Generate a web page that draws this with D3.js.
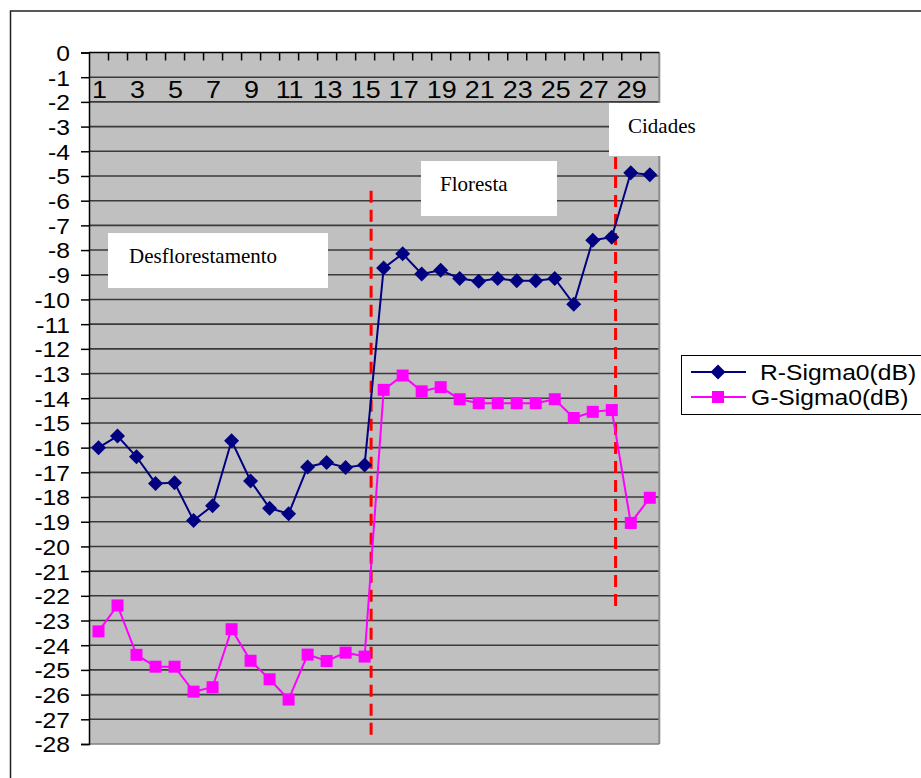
<!DOCTYPE html>
<html>
<head>
<meta charset="utf-8">
<script src="https://cdn.jsdelivr.net/npm/d3@7"></script>
<style>
  html, body { margin: 0; padding: 0; background: #ffffff; }
  svg { display: block; }
</style>
</head>
<body>
<div id="chart"></div>
<script>
// ---------------- DATA ----------------
const categories = d3.range(1, 31);               // 1..30
const xTickLabels = d3.range(1, 30, 2);           // 1,3,5,...,29
const yTickValues = d3.range(0, -29, -1);         // 0..-28

const seriesNames = ["R-Sigma0(dB)", "G-Sigma0(dB)"];

const rSigma0 = [
  -16.0, -15.53, -16.37, -17.45, -17.42, -18.95, -18.35, -15.72, -17.35, -18.45,
  -18.68, -16.78, -16.6, -16.8, -16.7, -8.73, -8.15, -8.97, -8.82, -9.15,
  -9.26, -9.15, -9.24, -9.24, -9.15, -10.19, -7.6, -7.48, -4.87, -4.95
];
const gSigma0 = [
  -23.44, -22.39, -24.39, -24.87, -24.87, -25.88, -25.7, -23.35, -24.63, -25.38,
  -26.2, -24.38, -24.64, -24.3, -24.46, -13.66, -13.08, -13.72, -13.55, -14.04,
  -14.2, -14.2, -14.2, -14.2, -14.04, -14.8, -14.55, -14.48, -19.05, -18.03
];

// region separators (category position, top value, bottom value)
const separatorX = [15.34, 28.2];
const separatorTop = [-5.6, -4.23];
const separatorBottom = [-27.67, -22.45];

const regionLabels = ["Desflorestamento", "Floresta", "Cidades"];

// ---------------- LAYOUT ----------------
const W = 921, H = 778;
const plot = { left: 89, right: 659.3, top: 52.5, bottom: 744 };
const SX = 1.12; // horizontal stretch of sans texts seen in the reference

const svg = d3.select("#chart").append("svg")
  .attr("width", W).attr("height", H);

// outer frame
svg.append("rect")
  .attr("x", 10.5).attr("y", 11).attr("width", W + 20).attr("height", H + 20)
  .attr("fill", "#fff").attr("stroke", "#222").attr("stroke-width", 1.5);

const x = d3.scaleLinear().domain([0.5, 30.5]).range([plot.left, plot.right]);
const y = d3.scaleLinear().domain([0, -28]).range([plot.top, plot.bottom]);

// plot background
svg.append("rect")
  .attr("x", plot.left).attr("y", plot.top)
  .attr("width", plot.right - plot.left).attr("height", plot.bottom - plot.top)
  .attr("fill", "#c0c0c0");

// gridlines
svg.append("g").selectAll("line").data(yTickValues.filter(v => v !== 0)).join("line")
  .attr("x1", plot.left).attr("x2", plot.right)
  .attr("y1", d => y(d)).attr("y2", d => y(d))
  .attr("stroke", d => d === -28 ? "#808080" : "#3a3a3a")
  .attr("stroke-width", 1.6);

// right border of plot
svg.append("line")
  .attr("x1", plot.right).attr("x2", plot.right)
  .attr("y1", plot.top).attr("y2", plot.bottom)
  .attr("stroke", "#8c8c8c").attr("stroke-width", 2);

function stretch(sel) {
  sel.each(function () {
    const len = this.getComputedTextLength();
    d3.select(this).attr("textLength", len * SX).attr("lengthAdjust", "spacingAndGlyphs");
  });
}

// Y axis
const yAxis = d3.axisLeft(y).tickValues(yTickValues).tickSize(8).tickPadding(11)
  .tickFormat(d => d3.format("d")(d).replace("−", "-"));
const gy = svg.append("g").attr("transform", `translate(${plot.left},0)`).call(yAxis);
gy.select(".domain").attr("stroke", "#000").attr("stroke-width", 1.5);
gy.selectAll(".tick line").attr("stroke", "#000").attr("stroke-width", 1.5);
gy.selectAll(".tick text")
  .attr("font-family", "'Liberation Sans', Arial, sans-serif")
  .attr("font-size", 22).attr("fill", "#000").attr("dy", "0.36em")
  .call(stretch);

// X axis at top (value 0), ticks inside at category boundaries
const boundaryTicks = d3.range(1.5, 30, 1);
const xAxis = d3.axisBottom(x).tickValues(boundaryTicks).tickSize(8).tickFormat("");
const gx = svg.append("g").attr("transform", `translate(0,${y(0)})`).call(xAxis);
gx.select(".domain").attr("stroke", "#000").attr("stroke-width", 1.5)
  .attr("d", `M${plot.left},0H${plot.right}`);
gx.selectAll(".tick line").attr("stroke", "#000").attr("stroke-width", 1.5);

// x labels (odd categories), placed between -1 and -2 gridlines
svg.append("g").selectAll("text").data(xTickLabels).join("text")
  .attr("x", d => x(d) + 1).attr("y", 98)
  .attr("text-anchor", "middle")
  .attr("font-family", "'Liberation Sans', Arial, sans-serif")
  .attr("font-size", 24).attr("fill", "#000")
  .text(d => d)
  .call(stretch);

// region separators
svg.append("g").selectAll("line").data(separatorX).join("line")
  .attr("x1", d => x(d)).attr("x2", d => x(d))
  .attr("y1", (d, i) => y(separatorTop[i])).attr("y2", (d, i) => y(separatorBottom[i]))
  .attr("stroke", "#ff0000").attr("stroke-width", 3)
  .attr("stroke-dasharray", "12,7");

// series
const series = [
  { name: seriesNames[0], values: rSigma0, color: "#000080", marker: "diamond" },
  { name: seriesNames[1], values: gSigma0, color: "#ff00ff", marker: "square" }
];
const line = d3.line().x((d, i) => x(categories[i])).y(d => y(d));

const diamondPath = "M0,-7.5L7.5,0L0,7.5L-7.5,0Z";
const squarePath = "M-6,-6H6V6H-6Z";

series.forEach(s => {
  svg.append("path").datum(s.values)
    .attr("d", line).attr("fill", "none")
    .attr("stroke", s.color).attr("stroke-width", 2);
  svg.append("g").selectAll("path").data(s.values).join("path")
    .attr("transform", (d, i) => `translate(${x(categories[i])},${y(d)})`)
    .attr("d", s.marker === "diamond" ? diamondPath : squarePath)
    .attr("fill", s.color);
});

// region label boxes
const boxes = [
  { x: 108, y: 233, w: 220, h: 55, tx: 129, ty: 263 },
  { x: 421, y: 161, w: 136, h: 55, tx: 440, ty: 191 },
  { x: 609, y: 103, w: 95, h: 53, tx: 628, ty: 133 }
];
boxes.forEach((b, i) => {
  svg.append("rect").attr("x", b.x).attr("y", b.y).attr("width", b.w).attr("height", b.h)
    .attr("fill", "#fff");
  svg.append("text").attr("x", b.tx).attr("y", b.ty)
    .attr("font-family", "'Liberation Serif', 'Times New Roman', serif")
    .attr("font-size", 21).attr("fill", "#000")
    .text(regionLabels[i]);
});

// legend
const lg = svg.append("g");
lg.append("rect").attr("x", 681.5).attr("y", 355.5).attr("width", 300).attr("height", 59)
  .attr("fill", "#fff").attr("stroke", "#000").attr("stroke-width", 1);
const legendRows = [
  { y: 372, lineX1: 691, lineX2: 746, tx: 760 },
  { y: 397, lineX1: 691, lineX2: 746, tx: 751 }
];
series.forEach((s, i) => {
  const r = legendRows[i];
  lg.append("line").attr("x1", r.lineX1).attr("x2", r.lineX2).attr("y1", r.y).attr("y2", r.y)
    .attr("stroke", s.color).attr("stroke-width", 2);
  lg.append("path").attr("transform", `translate(718,${r.y})`)
    .attr("d", s.marker === "diamond" ? diamondPath : squarePath).attr("fill", s.color);
  lg.append("text").attr("x", r.tx).attr("y", r.y).attr("dy", "0.36em")
    .attr("font-family", "'Liberation Sans', Arial, sans-serif")
    .attr("font-size", 22).attr("fill", "#000")
    .text(s.name)
    .call(stretch);
});
</script>
</body>
</html>
